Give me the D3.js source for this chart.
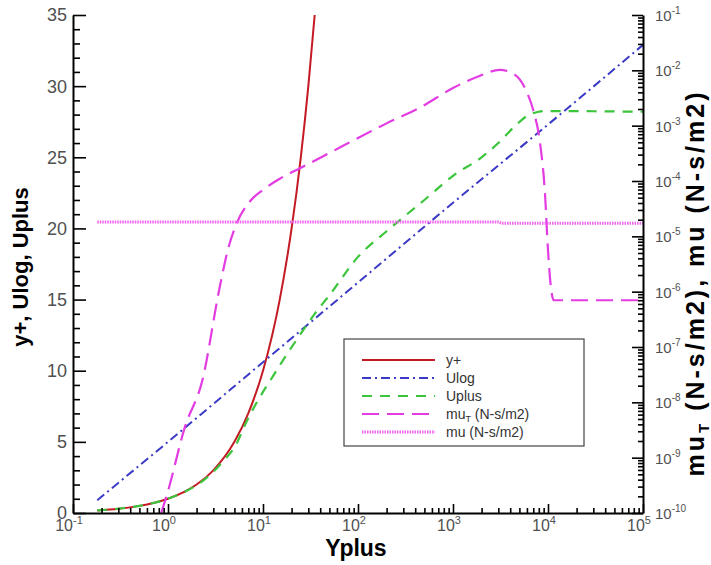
<!DOCTYPE html>
<html>
<head>
<meta charset="utf-8">
<script src="https://cdn.jsdelivr.net/npm/d3@7"></script>
<style>
  body { margin: 0; background: #ffffff; }
  text { font-family: "Liberation Sans", Arial, sans-serif; }
</style>
</head>
<body>
<script>
// ---- data ----
// y+ (red, left axis)
var yplusX = [0.18, 0.3, 0.5, 0.7, 1, 1.5, 2, 3, 5, 7, 10, 15, 20, 25, 30, 35];
var yplusY = [0.18, 0.3, 0.5, 0.7, 1, 1.5, 2, 3, 5, 7, 10, 15, 20, 25, 30, 35];
// Ulog (blue, left axis)
var ulogX = [0.18, 1, 10, 100, 1000, 10000, 100000];
var ulogY = [0.9, 5.0, 10.6, 16.2, 21.8, 27.3, 32.9];
// Uplus (green, left axis)
var uplusX = [0.18, 0.3, 0.5, 0.7, 1, 1.5, 2, 3, 4, 5, 6.8, 9, 12.7, 18, 25, 35, 50,
              100, 200, 500, 1000, 2000, 3000, 4500, 6000, 8000, 9500, 100000];
var uplusY = [0.18, 0.3, 0.5, 0.7, 1, 1.5, 1.95, 2.9, 3.8, 4.6, 6.5, 8.0, 9.6, 11.2, 12.6, 14.0, 15.3,
              18.0, 19.8, 22.0, 23.7, 25.0, 26.0, 27.2, 27.9, 28.2, 28.25, 28.2];
// mu_T (magenta, right axis)
var mutX = [0.85, 1, 1.5, 2.3, 3.5, 4.3, 5.2, 7.3, 10, 15, 24.5, 50, 100, 200, 445, 1000, 1900,
            3100, 4500, 6000, 7000, 8240, 9290, 10000, 10700, 11500, 100000];
var mutY = [1e-10, 2.5e-10, 3.5e-9, 2.5e-8, 1.2e-6, 6e-6, 1.6e-5, 4.3e-5, 6.9e-5, 1.1e-4, 1.7e-4,
            3.2e-4, 6e-4, 1.1e-3, 2.1e-3, 4.8e-3, 7.9e-3, 1.02e-2, 8.3e-3, 4e-3, 1.9e-3, 4.9e-4,
            6e-5, 5.6e-6, 1.26e-6, 7e-7, 7e-7];
// mu (pink dotted, right axis)
var muX = [0.18, 3000, 3300, 100000];
var muY = [1.82e-5, 1.82e-5, 1.72e-5, 1.72e-5];

// ---- tick values ----
var xMajor = [0.1, 1, 10, 100, 1000, 10000, 100000];
var xLabelsExp = ["-1", "0", "1", "2", "3", "4", "5"];
var leftMajor = [0, 5, 10, 15, 20, 25, 30, 35];
var rightMajor = [1e-10, 1e-9, 1e-8, 1e-7, 1e-6, 1e-5, 1e-4, 1e-3, 1e-2, 1e-1];
var rightLabelsExp = ["-10", "-9", "-8", "-7", "-6", "-5", "-4", "-3", "-2", "-1"];

var legendNames = ["y+", "Ulog", "Uplus", "mu_T (N-s/m2)", "mu (N-s/m2)"];

// ---- sizes ----
var width = 711, height = 565;
var plot = {left: 73, right: 643, top: 15, bottom: 513};

var svg = d3.select("body").append("svg")
  .attr("width", width).attr("height", height);

var x = d3.scaleLog().domain([0.1, 1e5]).range([plot.left, plot.right]);
var yL = d3.scaleLinear().domain([0, 35]).range([plot.bottom, plot.top]);
var yR = d3.scaleLog().domain([1e-10, 1e-1]).range([plot.bottom, plot.top]);

// minor ticks
var xMinor = [];
xMajor.slice(0, -1).forEach(function(d) {
  for (var k = 2; k < 10; k++) xMinor.push(d * k);
});
var rightMinor = [];
rightMajor.slice(0, -1).forEach(function(d) {
  for (var k = 2; k < 10; k++) rightMinor.push(d * k);
});
var leftMinor = d3.range(0, 36).filter(function(d) { return d % 5 !== 0; });

// ---- series ----
svg.append("clipPath").attr("id", "clip")
  .append("rect").attr("x", plot.left).attr("y", plot.top)
  .attr("width", plot.right - plot.left).attr("height", plot.bottom - plot.top);

var series = [
  {xs: yplusX, ys: yplusY, y: yL, color: "#c41a24", dash: null, w: 2},
  {xs: ulogX, ys: ulogY, y: yL, color: "#3a3ac6", dash: "9,4,2,4", w: 2},
  {xs: uplusX, ys: uplusY, y: yL, color: "#3cc43c", dash: "10,8", w: 2.2},
  {xs: mutX, ys: mutY, y: yR, color: "#e23ce2", dash: "17,8", w: 2.2},
  {xs: muX, ys: muY, y: yR, color: "#f064f0", dash: "1.5,1", w: 3}
];

var g = svg.append("g").attr("clip-path", "url(#clip)");
series.forEach(function(s) {
  var pts = s.xs.map(function(d, i) { return [d, s.ys[i]]; });
  var line = d3.line()
    .x(function(d) { return x(d[0]); })
    .y(function(d) { return s.y(d[1]); })
    .curve(d3.curveMonotoneX);
  g.append("path").datum(pts)
    .attr("d", line)
    .attr("fill", "none")
    .attr("stroke", s.color)
    .attr("stroke-width", s.w)
    .attr("stroke-dasharray", s.dash);
});

// ---- axes ----
function styleAxis(sel, keepDomain) {
  sel.selectAll("line").attr("stroke", "#000").attr("stroke-width", 1.6);
  sel.select(".domain").attr("stroke", keepDomain ? "#000" : "none").attr("stroke-width", 2);
  sel.selectAll("text").remove();
}

svg.append("g").attr("transform", "translate(0," + plot.bottom + ")")
  .call(d3.axisTop(x).tickValues(xMinor).tickSize(5).tickSizeOuter(0))
  .call(styleAxis, false);
svg.append("g").attr("transform", "translate(0," + plot.bottom + ")")
  .call(d3.axisTop(x).tickValues(xMajor).tickSize(9).tickSizeOuter(0))
  .call(styleAxis, true);

svg.append("g").attr("transform", "translate(" + plot.left + ",0)")
  .call(d3.axisRight(yL).tickValues(leftMinor).tickSize(7).tickSizeOuter(0))
  .call(styleAxis, false);
svg.append("g").attr("transform", "translate(" + plot.left + ",0)")
  .call(d3.axisRight(yL).tickValues(leftMajor).tickSize(13).tickSizeOuter(0))
  .call(styleAxis, true);

svg.append("g").attr("transform", "translate(" + plot.right + ",0)")
  .call(d3.axisLeft(yR).tickValues(rightMinor).tickSize(5).tickSizeOuter(0))
  .call(styleAxis, false);
svg.append("g").attr("transform", "translate(" + plot.right + ",0)")
  .call(d3.axisLeft(yR).tickValues(rightMajor).tickSize(11).tickSizeOuter(0))
  .call(styleAxis, true);

// ---- tick labels ----
var labelColor = "#505050";
leftMajor.forEach(function(d) {
  svg.append("text").attr("x", plot.left - 6).attr("y", yL(d))
    .attr("dy", "0.36em").attr("text-anchor", "end")
    .attr("font-size", 18).attr("fill", labelColor).text(d);
});

xMajor.forEach(function(d, i) {
  var t = svg.append("text").attr("x", x(d) - 4).attr("y", plot.bottom + 18)
    .attr("text-anchor", "middle").attr("font-size", 16).attr("fill", labelColor);
  t.append("tspan").text("10");
  t.append("tspan").attr("dy", -7).attr("font-size", 11).text(xLabelsExp[i]);
});

rightMajor.forEach(function(d, i) {
  var t = svg.append("text").attr("x", plot.right + 12).attr("y", yR(d) + 6)
    .attr("font-size", 15).attr("fill", labelColor);
  t.append("tspan").text("10");
  t.append("tspan").attr("dy", -7).attr("font-size", 10).text(rightLabelsExp[i]);
});

// ---- axis titles ----
svg.append("text").attr("x", 356).attr("y", 556)
  .attr("text-anchor", "middle").attr("font-size", 23).attr("font-weight", "bold")
  .text("Yplus");

svg.append("text")
  .attr("transform", "translate(28," + 267 + ") rotate(-90)")
  .attr("text-anchor", "middle").attr("font-size", 22).attr("font-weight", "bold")
  .text("y+, Ulog, Uplus");

var rt = svg.append("text")
  .attr("transform", "translate(704," + 283 + ") rotate(-90)")
  .attr("text-anchor", "middle").attr("font-size", 25).attr("font-weight", "bold")
  .attr("letter-spacing", 3);
rt.append("tspan").text("mu");
rt.append("tspan").attr("dy", 5).attr("font-size", 15).text("T");
rt.append("tspan").attr("dy", -5).text(" (N-s/m2), mu (N-s/m2)");

// ---- legend ----
var lg = svg.append("g");
lg.append("rect").attr("x", 344).attr("y", 339).attr("width", 240).attr("height", 107)
  .attr("fill", "#fff").attr("stroke", "#444").attr("stroke-width", 1.2);
legendNames.forEach(function(name, i) {
  var s = series[i];
  var yy = 360 + i * 18;
  lg.append("line").attr("x1", 362).attr("x2", 435).attr("y1", yy).attr("y2", yy)
    .attr("stroke", s.color).attr("stroke-width", s.w).attr("stroke-dasharray", s.dash);
  var t = lg.append("text").attr("x", 446).attr("y", yy + 5)
    .attr("font-size", 14).attr("fill", "#333");
  if (name.indexOf("mu_T") === 0) {
    t.append("tspan").text("mu");
    t.append("tspan").attr("dy", 3).attr("font-size", 9).text("T");
    t.append("tspan").attr("dy", -3).text(" (N-s/m2)");
  } else {
    t.text(name);
  }
});
</script>
</body>
</html>
